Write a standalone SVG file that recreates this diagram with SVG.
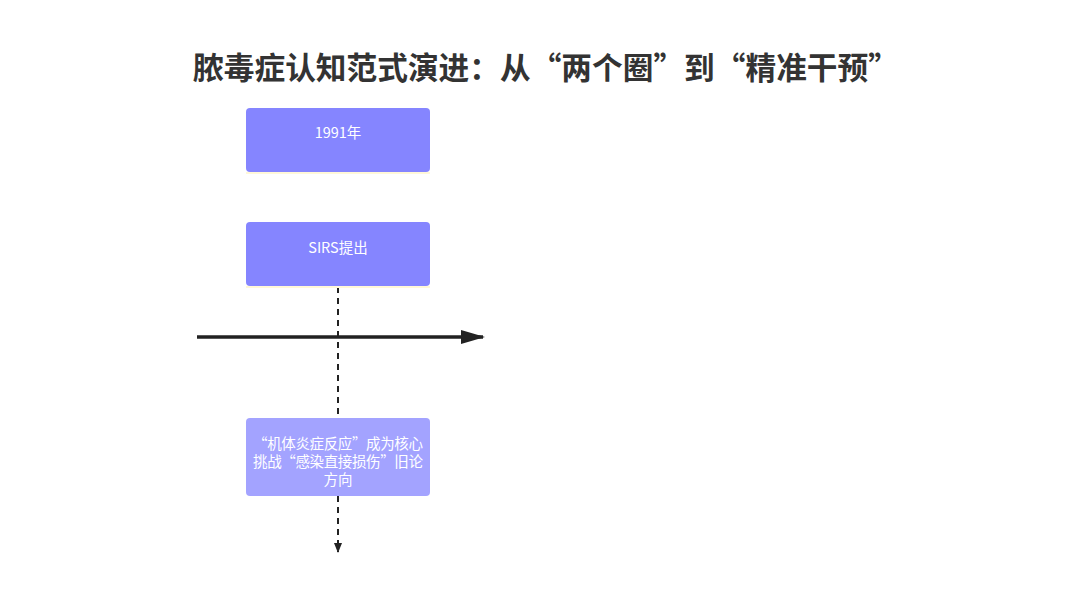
<svg xmlns="http://www.w3.org/2000/svg" width="1080" height="600" viewBox="0 0 1080 600">
<style>
.t{font-family:"Noto Sans CJK SC","Noto Sans",sans-serif;}
.title{font-size:30.7px;font-weight:bold;fill:#333;}
.lbl{font-size:14.5px;fill:#fff;}
.box{fill:#8585ff;}
.edge{fill:#fff8d8;}
</style>
<defs>
<marker id="ah" markerWidth="10" markerHeight="10" refX="9" refY="5" orient="auto" markerUnits="userSpaceOnUse">
<path d="M0,1 L10,5 L0,9 Z" fill="#222"/>
</marker>
<marker id="big" markerWidth="24" markerHeight="16" refX="22" refY="8" orient="auto" markerUnits="userSpaceOnUse">
<path d="M0,1 L24,8 L0,15 Z" fill="#222"/>
</marker>
</defs>
<rect width="1080" height="600" fill="#fff"/>
<text class="t title" x="546" y="79" text-anchor="middle">脓毒症认知范式演进：从“两个圈”到“精准干预”</text>
<g id="connectors">
<line x1="338" y1="287" x2="338" y2="552" stroke="#222" stroke-width="2" stroke-dasharray="6,5" marker-end="url(#ah)"/>
<line x1="197" y1="337" x2="483" y2="337" stroke="#222" stroke-width="3.5" marker-end="url(#big)"/>
</g>
<g id="n1">
<rect class="box" x="246" y="108" width="184" height="64" rx="4"/>
<rect class="edge" x="246" y="172" width="184" height="2"/>
<text class="t lbl" x="338" y="138" text-anchor="middle">1991年</text>
</g>
<g id="n2">
<rect class="box" x="246" y="222" width="184" height="64" rx="4"/>
<rect class="edge" x="246" y="286" width="184" height="2"/>
<text class="t lbl" x="338" y="253" text-anchor="middle">SIRS提出</text>
</g>
<g id="n3">
<rect x="246" y="418" width="184" height="78" rx="4" fill="#a3a3ff"/>
<text class="t lbl" x="338" y="448.5" text-anchor="middle" textLength="170" lengthAdjust="spacing">“机体炎症反应”成为核心</text>
<text class="t lbl" x="338" y="466.5" text-anchor="middle" textLength="170" lengthAdjust="spacing">挑战“感染直接损伤”旧论</text>
<text class="t lbl" x="338" y="484.5" text-anchor="middle">方向</text>
</g>
</svg>
